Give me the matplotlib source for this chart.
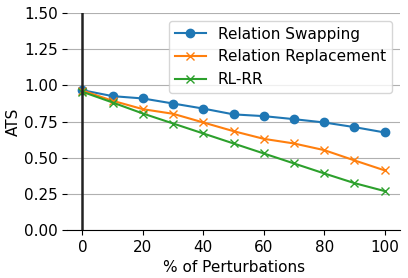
import matplotlib
matplotlib.use('Agg')
import matplotlib.pyplot as plt

# dados
perturbacoes = [0, 10, 20, 30, 40, 50, 60, 70, 80, 90, 100]
swapping = [0.967, 0.926, 0.910, 0.875, 0.840, 0.800, 0.788, 0.767, 0.744, 0.712, 0.675]
replacement = [0.965, 0.894, 0.836, 0.804, 0.744, 0.684, 0.631, 0.599, 0.553, 0.482, 0.413]
rl_rr = [0.956, 0.882, 0.806, 0.737, 0.668, 0.599, 0.530, 0.461, 0.392, 0.325, 0.270]

plt.rcParams['font.size'] = 11

fig, ax = plt.subplots(figsize=(4.08, 2.78), dpi=100)
ax.plot(perturbacoes, swapping, '-o', color='#1f77b4', label='Relation Swapping')
ax.plot(perturbacoes, replacement, '-x', color='#ff7f0e', label='Relation Replacement')
ax.plot(perturbacoes, rl_rr, '-x', color='#2ca02c', label='RL-RR')
ax.axvline(0, color='#222222', linewidth=1.8)

ax.set_ylim(0, 1.5)
ax.set_yticks([0, 0.25, 0.5, 0.75, 1.0, 1.25, 1.5])
ax.set_xticks([0, 20, 40, 60, 80, 100])
ax.yaxis.grid(True, color='#b0b0b0')
ax.set_axisbelow(True)
for s in ['top', 'right', 'left']:
    ax.spines[s].set_visible(False)

ax.set_xlabel('% of Perturbations')
ax.set_ylabel('ATS', labelpad=2)
ax.legend(loc='upper right')

fig.subplots_adjust(left=0.165, right=0.98, bottom=0.172, top=0.953)
fig.savefig('out.png', dpi=100)
